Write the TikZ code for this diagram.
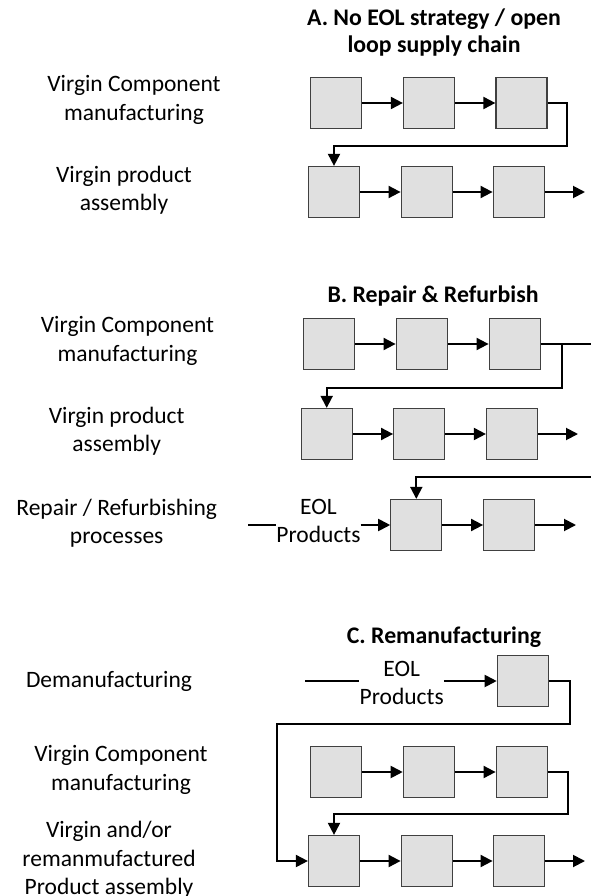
\documentclass[tikz,border=0pt]{standalone}
\usepackage{fontspec}
\setmainfont{Carlito}
\usetikzlibrary{arrows.meta}
\begin{document}
\begin{tikzpicture}[x=1pt,y=-1pt,
 procbox/.style={draw=black!75, line width=1.2pt, fill=black!12, minimum width=51pt, minimum height=51pt, inner sep=0pt},
 flow/.style={line width=1.9pt, -{Triangle[length=12pt,width=12pt]}},
 plain/.style={line width=1.9pt},
 lbl/.style={font=\fontsize{23.5}{28.5}\selectfont, align=center, inner sep=0pt},
 ttl/.style={font=\fontsize{23.8}{27}\selectfont\bfseries, align=center, inner sep=0pt}]
\useasboundingbox (0,0) rectangle (591,896);

% ---------- Section A ----------
\node[ttl] (tA) at (434,33) {A. No EOL strategy / open\\loop supply chain};
\node[lbl] (lA1) at (134,100) {Virgin Component\\manufacturing};
\node[lbl] (lA2) at (124,190) {Virgin product\\assembly};

\node[procbox] (a1) at (336,103) {};
\node[procbox] (a2) at (429,103) {};
\node[procbox] (a3) at (521.5,103) {};
\node[procbox] (a4) at (334,192) {};
\node[procbox] (a5) at (426.7,192) {};
\node[procbox] (a6) at (518.7,192) {};
\coordinate (aturn) at (567,146);
\coordinate (aout) at (585,192);
\draw[flow] (a1) -- (a2);
\draw[flow] (a2) -- (a3);
\draw[flow] (a3.east) -| (aturn) -| (a4.north);
\draw[flow] (a4) -- (a5);
\draw[flow] (a5) -- (a6);
\draw[flow] (a6.east) -- (aout);

% ---------- Section B ----------
\node[ttl] (tB) at (433,296) {B. Repair \& Refurbish};
\node[lbl] (lB1) at (127.5,341) {Virgin Component\\manufacturing};
\node[lbl] (lB2) at (116.7,431) {Virgin product\\assembly};
\node[lbl] (lB3) at (116.7,523) {Repair / Refurbishing\\processes};

\node[procbox] (b1) at (329.2,344) {};
\node[procbox] (b2) at (421.7,344) {};
\node[procbox] (b3) at (514.7,344) {};
\node[procbox] (b4) at (326.7,434) {};
\node[procbox] (b5) at (419.2,434) {};
\node[procbox] (b6) at (512,434) {};
\node[procbox] (b7) at (416.3,525) {};
\node[procbox] (b8) at (509.2,525) {};
\node[lbl] (eolB) at (318.5,521) {EOL\\Products};
\coordinate (bedge) at (591,344);
\coordinate (bturn) at (561.7,388);
\coordinate (bret) at (591,477);
\coordinate (bin) at (248,525);
\coordinate (bout1) at (578,434);
\coordinate (bout2) at (576,525);
\draw[flow] (b1) -- (b2);
\draw[flow] (b2) -- (b3);
\draw[plain] (b3.east) -- (bedge);
\draw[flow] (b3.east -| bturn) -- (bturn) -| (b4.north);
\draw[flow] (b4) -- (b5);
\draw[flow] (b5) -- (b6);
\draw[flow] (b6.east) -- (bout1);
\draw[flow] (bret) -| (b7.north);
\draw[plain] (bin) -- (bin -| eolB.west);
\draw[flow] (bin -| eolB.east) -- (b7.west);
\draw[flow] (b7) -- (b8);
\draw[flow] (b8.east) -- (bout2);

% ---------- Section C ----------
\node[ttl] (tC) at (444,637) {C. Remanufacturing};
\node[lbl] (lC1) at (109,681) {Demanufacturing};
\node[lbl] (lC2) at (121,770) {Virgin Component\\manufacturing};
\node[lbl] (lC3) at (109,860) {Virgin and/or\\remanmufactured\\Product assembly};

\node[procbox] (c0) at (522.8,681) {};
\node[lbl] (eolC) at (401.7,683) {EOL\\Products};
\node[procbox] (c1) at (336.3,772) {};
\node[procbox] (c2) at (428.8,772) {};
\node[procbox] (c3) at (521.7,772) {};
\node[procbox] (c4) at (334,861) {};
\node[procbox] (c5) at (426.7,861) {};
\node[procbox] (c6) at (518.7,861) {};
\coordinate (cin) at (305,681);
\coordinate (cturn1) at (570,724);
\coordinate (cleft) at (277.3,724);
\coordinate (cturn3) at (568.3,814);
\coordinate (cout) at (585,861);
\draw[plain] (cin) -- (cin -| eolC.west);
\draw[flow] (cin -| eolC.east) -- (c0.west);
\draw[flow] (c0.east) -| (cturn1) -- (cleft) |- (c4.west);
\draw[flow] (c1) -- (c2);
\draw[flow] (c2) -- (c3);
\draw[flow] (c3.east) -| (cturn3) -| (c4.north);
\draw[flow] (c4) -- (c5);
\draw[flow] (c5) -- (c6);
\draw[flow] (c6.east) -- (cout);
\end{tikzpicture}
\end{document}
